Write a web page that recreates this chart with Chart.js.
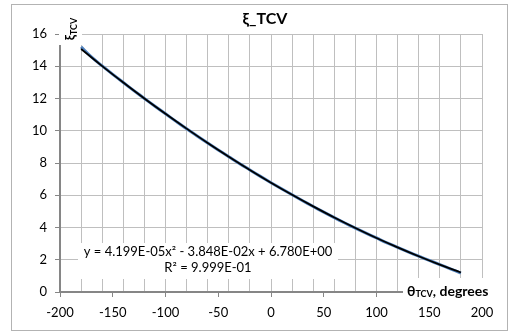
<!DOCTYPE html>
<html>
<head>
<meta charset="utf-8">
<script src="https://cdn.jsdelivr.net/npm/chart.js@4.4.0/dist/chart.umd.min.js"></script>
<style>
  html, body { margin: 0; padding: 0; background: #fff; }
  canvas { display: block; }
</style>
</head>
<body>
<canvas id="xiChart" width="509" height="333"></canvas>
<script>
// xi_TCV against theta_TCV (degrees)
const thetaDeg = [-180, -170, -160, -150, -140, -130, -120, -110, -100, -90,
                  -80, -70, -60, -50, -40, -30, -20, -10, 0, 10,
                  20, 30, 40, 50, 60, 70, 80, 90, 100, 110,
                  120, 130, 140, 150, 160, 170, 180];
const xiTcv = [15.20, 14.56, 14.02, 13.50, 12.99, 12.49, 12.00, 11.52, 11.05, 10.58,
               10.12, 9.68, 9.24, 8.81, 8.39, 7.97, 7.57, 7.17, 6.78, 6.40,
               6.03, 5.66, 5.30, 4.95, 4.61, 4.28, 3.96, 3.65, 3.35, 3.05,
               2.77, 2.49, 2.22, 1.96, 1.70, 1.44, 1.17];

// poly trendline (black) as drawn
const trendTheta = [-180, -160, -140, -120, -100, -80, -60, -40, -20, 0,
                    20, 40, 60, 80, 100, 120, 140, 160, 180];
const trendXi = [15.07, 14.01, 12.99, 12.00, 11.05, 10.13, 9.24, 8.39, 7.57, 6.78,
                 6.03, 5.31, 4.62, 3.97, 3.35, 2.77, 2.22, 1.70, 1.21];

const xTickLabels = [-200, -150, -100, -50, 0, 50, 100, 150, 200];
const yTickLabels = [0, 2, 4, 6, 8, 10, 12, 14, 16];
const xGridStep = 20;

const eqLine1 = 'y = 4.199E-05x² - 3.848E-02x + 6.780E+00';
const eqLine2 = 'R² = 9.999E-01';

const FONT = 'Lato';

// title, axis titles, trendline label + chart border
const excelBits = {
  id: 'excelBits',
  afterDraw(chart) {
    const c = chart.ctx;
    c.save();
    c.fillStyle = '#fff';
    c.fillRect(59, 12, 23, 33);    // behind y title
    c.fillRect(78, 243, 260, 36);  // behind equation
    c.fillRect(403, 278, 92, 25);  // behind x title

    c.fillStyle = '#000';
    c.textBaseline = 'middle';

    // chart title
    c.font = 'bold 16px ' + FONT;
    c.textAlign = 'center';
    c.fillText('ξ_TCV', 265, 19);

    // equation
    c.font = '13px ' + FONT;
    c.fillText(eqLine1, 208, 252);
    c.fillText(eqLine2, 208, 268);

    // x axis title
    c.textAlign = 'left';
    let x = 407;
    c.font = 'bold 14px ' + FONT;
    c.fillText('θ', x, 291);
    x += c.measureText('θ').width;
    c.font = 'bold 9px ' + FONT;
    c.fillText('TCV', x, 294);
    x += c.measureText('TCV').width;
    c.font = 'bold 14px ' + FONT;
    c.fillText(', degrees', x, 291);

    // y axis title, rotated
    c.translate(71, 29);
    c.rotate(-Math.PI / 2);
    c.font = 'bold 13px ' + FONT;
    const w1 = c.measureText('ξ').width;
    c.font = 'bold 9px ' + FONT;
    const w2 = c.measureText('TCV').width;
    const t = -(w1 + w2) / 2;
    c.font = 'bold 13px ' + FONT;
    c.fillText('ξ', t, 0);
    c.font = 'bold 9px ' + FONT;
    c.fillText('TCV', t + w1, 3);
    c.restore();

    c.save();
    c.strokeStyle = '#B3B3B3';
    c.lineWidth = 1;
    c.strokeRect(11.5, 4.5, 496, 326);
    c.restore();
  }
};

const ctx = document.getElementById('xiChart');
new Chart(ctx, {
  type: 'scatter',
  data: {
    datasets: [
      {
        label: 'Poly. trend',
        data: trendTheta.map((v, i) => ({ x: v, y: trendXi[i] })),
        showLine: true,
        borderColor: '#000000',
        borderWidth: 1.75,
        pointRadius: 0,
        tension: 0.4
      },
      {
        label: 'xi_TCV',
        data: thetaDeg.map((v, i) => ({ x: v, y: xiTcv[i] })),
        showLine: true,
        borderColor: '#4F81BD',
        borderWidth: 3,
        pointRadius: 0,
        tension: 0.4
      }
    ]
  },
  options: {
    responsive: false,
    animation: false,
    devicePixelRatio: 1,
    layout: { padding: { left: 12, top: 34, right: 27, bottom: 0 } },
    plugins: {
      legend: { display: false },
      title: { display: false },
      tooltip: { enabled: false }
    },
    scales: {
      x: {
        type: 'linear',
        min: -200,
        max: 200,
        afterFit: s => { s.height = 41; },
        ticks: {
          stepSize: 10,
          autoSkip: false,
          maxRotation: 0,
          padding: 8,
          color: '#000',
          font: { family: FONT, size: 13 },
          callback: v => xTickLabels.includes(v) ? String(v) : ''
        },
        grid: {
          color: c => (c.tick && c.tick.value % xGridStep === 0) ? '#BFBFBF' : 'rgba(0,0,0,0)',
          tickColor: c => (c.tick && xTickLabels.includes(c.tick.value)) ? '#868686' : 'rgba(0,0,0,0)',
          tickLength: 5
        },
        border: { display: true, color: '#868686', width: 2, z: 1 }
      },
      y: {
        min: 0,
        max: 16,
        afterFit: s => { s.width = 48; },
        afterBuildTicks: s => { s.ticks = yTickLabels.map(v => ({ value: v })); },
        ticks: {
          padding: 8,
          color: '#000',
          font: { family: FONT, size: 13 }
        },
        grid: {
          color: '#BFBFBF',
          tickColor: '#868686',
          tickLength: 5
        },
        border: { display: true, color: '#868686', width: 2, z: 1 }
      }
    }
  },
  plugins: [excelBits]
});
</script>
</body>
</html>
